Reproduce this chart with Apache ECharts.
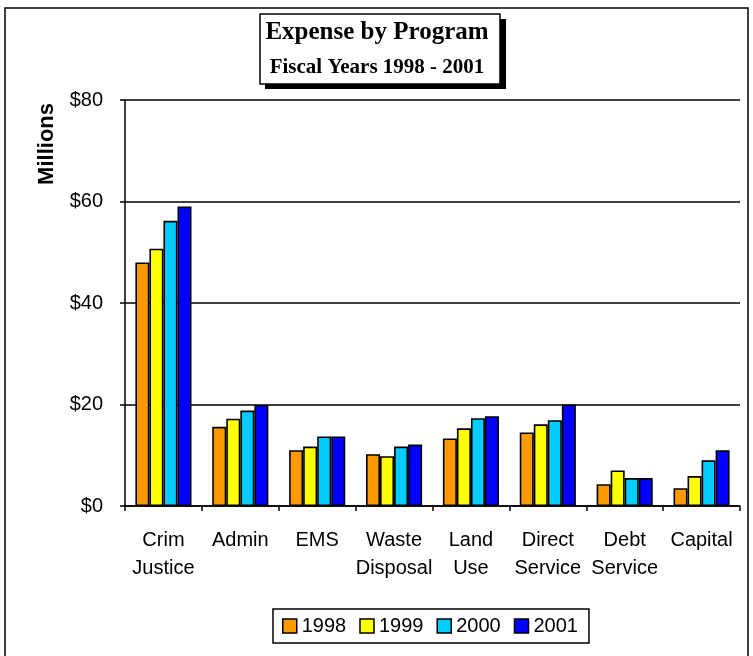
<!DOCTYPE html>
<html><head><meta charset="utf-8">
<script src="https://cdn.jsdelivr.net/npm/echarts@6/dist/echarts.min.js"></script>
<style>html,body{margin:0;padding:0;background:#fff}#c{width:753px;height:656px}</style>
</head><body><div id="c"></div>
<script>
var categories = ['Crim\nJustice','Admin','EMS','Waste\nDisposal','Land\nUse','Direct\nService','Debt\nService','Capital'];
var years = ['1998','1999','2000','2001'];
var v1998 = [48.0, 15.6, 11.0, 10.2, 13.3, 14.5, 4.3, 3.5];
var v1999 = [50.7, 17.2, 11.7, 9.8, 15.3, 16.1, 7.0, 5.9];
var v2000 = [56.2, 18.8, 13.7, 11.7, 17.3, 16.9, 5.5, 9.0];
var v2001 = [59.0, 19.9, 13.7, 12.1, 17.7, 20.0, 5.5, 11.0];
var colors = ['#FF9900','#FFFF00','#00CCFF','#0000FF'];
var yTicks = [0,20,40,60,80];

var chart = echarts.init(document.getElementById('c'), null, {renderer:'canvas'});
var sans = '"Liberation Sans", Arial, sans-serif';
var serif = '"Liberation Serif", "Times New Roman", serif';
var values = [v1998, v1999, v2000, v2001];
var series = years.map(function(y,i){
  return {
    name: y, type: 'bar', data: values[i],
    barGap: '0%', barCategoryGap: '27%',
    itemStyle: {color: colors[i], borderColor: '#000', borderWidth: 1.6},
    emphasis: {disabled: true}
  };
});
chart.setOption({
  animation: false,
  color: colors,
  grid: {left: 125, right: 13, top: 100, bottom: 150},
  legend: {
    data: years, left: 273, top: 609,
    itemWidth: 14, itemHeight: 14, itemGap: 13,
    padding: [7, 11, 7, 9],
    borderColor: '#000', borderWidth: 1.5,
    icon: 'rect',
    textStyle: {fontFamily: sans, fontSize: 20, color: '#000'},
    itemStyle: {borderColor: '#000', borderWidth: 1.5}
  },
  xAxis: {
    type: 'category', data: categories,
    axisLine: {lineStyle: {color: '#000', width: 1.5}},
    axisTick: {show: true, length: 5, alignWithLabel: false, lineStyle: {color:'#000', width: 1.5}},
    axisLabel: {fontFamily: sans, fontSize: 20, color: '#000', margin: 20, lineHeight: 28, interval: 0}
  },
  yAxis: {
    type: 'value', min: 0, max: 80, interval: 20,
    axisLine: {show: true, lineStyle: {color: '#000', width: 1.5}},
    axisTick: {show: true, length: 5, lineStyle: {color:'#000', width: 1.5}},
    splitLine: {show: true, lineStyle: {color: '#000', width: 1.5}},
    axisLabel: {fontFamily: sans, fontSize: 20, color: '#000', margin: 22,
      formatter: function(v){ return yTicks.indexOf(v) >= 0 ? '$' + v : ''; }}
  },
  series: series,
  graphic: [
    {type: 'rect', shape: {x: 5, y: 8, width: 743, height: 660}, style: {fill: 'none', stroke: '#000', lineWidth: 1.5}, z: -1},
    {type: 'text', left: 36, top: 103, rotation: Math.PI/2,
      style: {text: 'Millions', font: 'bold 22px ' + sans, fill: '#000'}},
    {type: 'rect', shape: {x: 265, y: 19, width: 241, height: 70}, style: {fill: '#000'}},
    {type: 'rect', shape: {x: 260, y: 14, width: 240, height: 70}, style: {fill: '#fff', stroke: '#000', lineWidth: 1.5}},
    {type: 'text', x: 377, y: 33, style: {text: 'Expense by Program', font: 'bold 25px ' + serif, fill: '#000', align: 'center', verticalAlign: 'middle'}},
    {type: 'text', x: 377, y: 68, style: {text: 'Fiscal Years 1998 - 2001', font: 'bold 21px ' + serif, fill: '#000', align: 'center', verticalAlign: 'middle'}}
  ]
});
</script></body></html>
